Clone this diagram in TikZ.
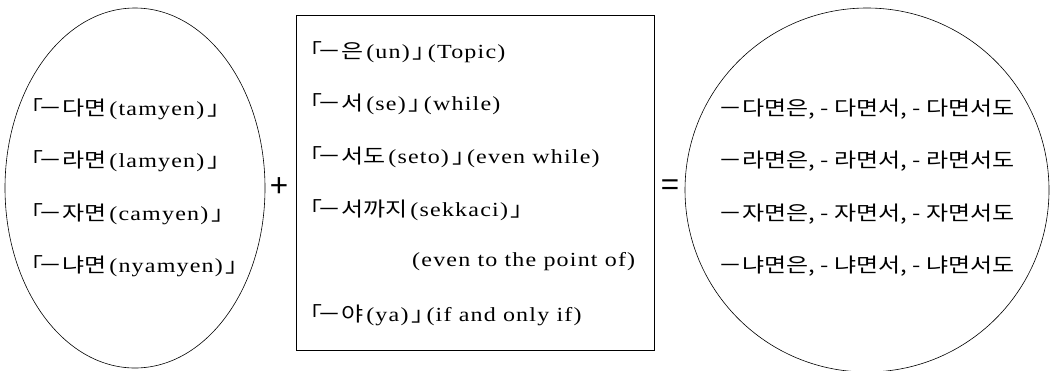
\documentclass[tikz,border=0pt]{standalone}
\usepackage{fontspec}
\setmainfont[FakeStretch=1.2, LetterSpace=6]{Liberation Serif}
\newfontfamily\krfont[FakeStretch=1.2]{Noto Sans CJK KR}
\newfontfamily\signfont{Noto Sans CJK KR}
\newcommand{\kr}[1]{{\krfont #1}\kern3pt}
\newcommand{\opn}{{\krfont 「}\kern-5pt}
\newcommand{\cls}{\kern3pt{\krfont 」}\kern-9pt}
\usetikzlibrary{shapes.geometric}
\tikzset{txt/.style={font=\fontsize{20}{22}\selectfont, anchor=west, inner sep=0pt}}
\tikzset{frame/.style={draw, line width=0.6pt, inner sep=0pt}}
\tikzset{sign/.style={font=\signfont\fontsize{32}{32}\selectfont, inner sep=0pt}}

\begin{document}
\begin{tikzpicture}[x=1pt,y=-1pt]
\useasboundingbox (0,0) rectangle (1051,370);
% left ellipse: the conditional endings
\node[frame, ellipse, minimum width=260pt, minimum height=360pt] (lhs) at (135,188) {};
\node[txt] (l1) at (19,109) {\opn\kr{－다면}(tamyen)\cls};
\node[txt] (l2) at (19,161) {\opn\kr{－라면}(lamyen)\cls};
\node[txt] (l3) at (19,214) {\opn\kr{－자면}(camyen)\cls};
\node[txt] (l4) at (19,266) {\opn\kr{－냐면}(nyamyen)\cls};
\node[sign] (plus) at (279,188) {+};
% middle box: the particles
\node[frame, rectangle, minimum width=358pt, minimum height=335pt] (mid) at (475,183) {};
\node[txt] (m1) at (298,52) {\opn\kr{－은}(un)\cls(Topic)};
\node[txt] (m2) at (298,104) {\opn\kr{－서}(se)\cls(while)};
\node[txt] (m3) at (298,157) {\opn\kr{－서도}(seto)\cls(even while)};
\node[txt] (m4) at (298,210) {\opn\kr{－서까지}(sekkaci)\cls};
\node[txt] (m5) at (412,262) {(even to the point of)};
\node[txt] (m6) at (298,315) {\opn\kr{－야}(ya)\cls(if and only if)};
\node[sign] (eq) at (670,188) {=};
% right circle: the combined forms
\node[frame, circle, minimum size=364pt] (rhs) at (867,190) {};
\node[txt] (r1) at (718,109) {\kr{－다면은, - 다면서, - 다면서도}};
\node[txt] (r2) at (718,161) {\kr{－라면은, - 라면서, - 라면서도}};
\node[txt] (r3) at (718,214) {\kr{－자면은, - 자면서, - 자면서도}};
\node[txt] (r4) at (718,266) {\kr{－냐면은, - 냐면서, - 냐면서도}};
\end{tikzpicture}
\end{document}
